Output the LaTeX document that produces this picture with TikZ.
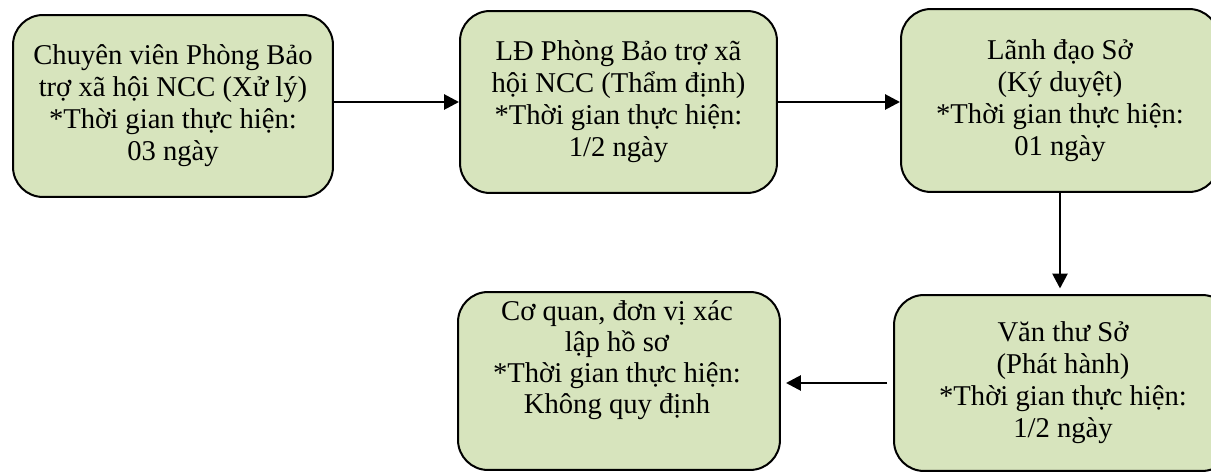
\documentclass[tikz,border=0pt]{standalone}
\usepackage{fontspec}
\setmainfont{Liberation Serif}
\usetikzlibrary{arrows.meta}
\definecolor{boxgreen}{HTML}{D7E4BD}
\tikzset{
  stepbox/.style={draw=black, line width=0.04cm, fill=boxgreen, rounded corners=0.6cm,
    align=center, inner sep=0pt, font=\fontsize{16.3}{18.2}\selectfont},
  steptext/.style={align=center, inner sep=0pt, font=\fontsize{16.3}{17.6}\selectfont},
  flow/.style={line width=0.055cm, -{Triangle[length=0.3cm,width=0.3cm]}}
}

\begin{document}
\begin{tikzpicture}[x=0.02cm, y=-0.02cm]
  %%%%% START %%%%%
  \useasboundingbox (0,0) rectangle (1211,472);

  % top row
  \node[stepbox, minimum width=6.4cm, minimum height=3.64cm] (b1) at (173,106)
    {Chuyên viên Phòng Bảo\\trợ xã hội NCC (Xử lý)\\*Thời gian thực hiện:\\03 ngày};
  \node[stepbox, minimum width=6.34cm, minimum height=3.64cm] (b2) at (618.5,102)
    {LĐ Phòng Bảo trợ xã\\hội NCC (Thẩm định)\\*Thời gian thực hiện:\\1/2 ngày};
  \node[stepbox, minimum width=6.36cm, minimum height=3.66cm] (b3) at (1060,100.5)
    {Lãnh đạo Sở\\(Ký duyệt)\\*Thời gian thực hiện:\\01 ngày};

  % bottom row
  \node[stepbox, minimum width=6.76cm, minimum height=3.52cm] (b4) at (1063,383)
    {Văn thư Sở\\(Phát hành)\\*Thời gian thực hiện:\\1/2 ngày};
  \node[stepbox, minimum width=6.44cm, minimum height=3.56cm] (b5) at (619,381) {};
  \node[steptext] (t5) at (617,360)
    {Cơ quan, đơn vị xác\\lập hồ sơ\\*Thời gian thực hiện:\\Không quy định};

  % arrows
  \draw[flow] (b1.east |- b2.west) -- (b2.west);
  \draw[flow] (b2.east) -- (b2.east -| b3.west);
  \draw[flow, shorten >=0.11cm] (b3.south) -- (b3.south |- b4.north);
  \draw[flow, shorten <=0.12cm, shorten >=0.1cm] (b4.west) -- (b4.west -| b5.east);
  %%%%% END %%%%%
\end{tikzpicture}
\end{document}
